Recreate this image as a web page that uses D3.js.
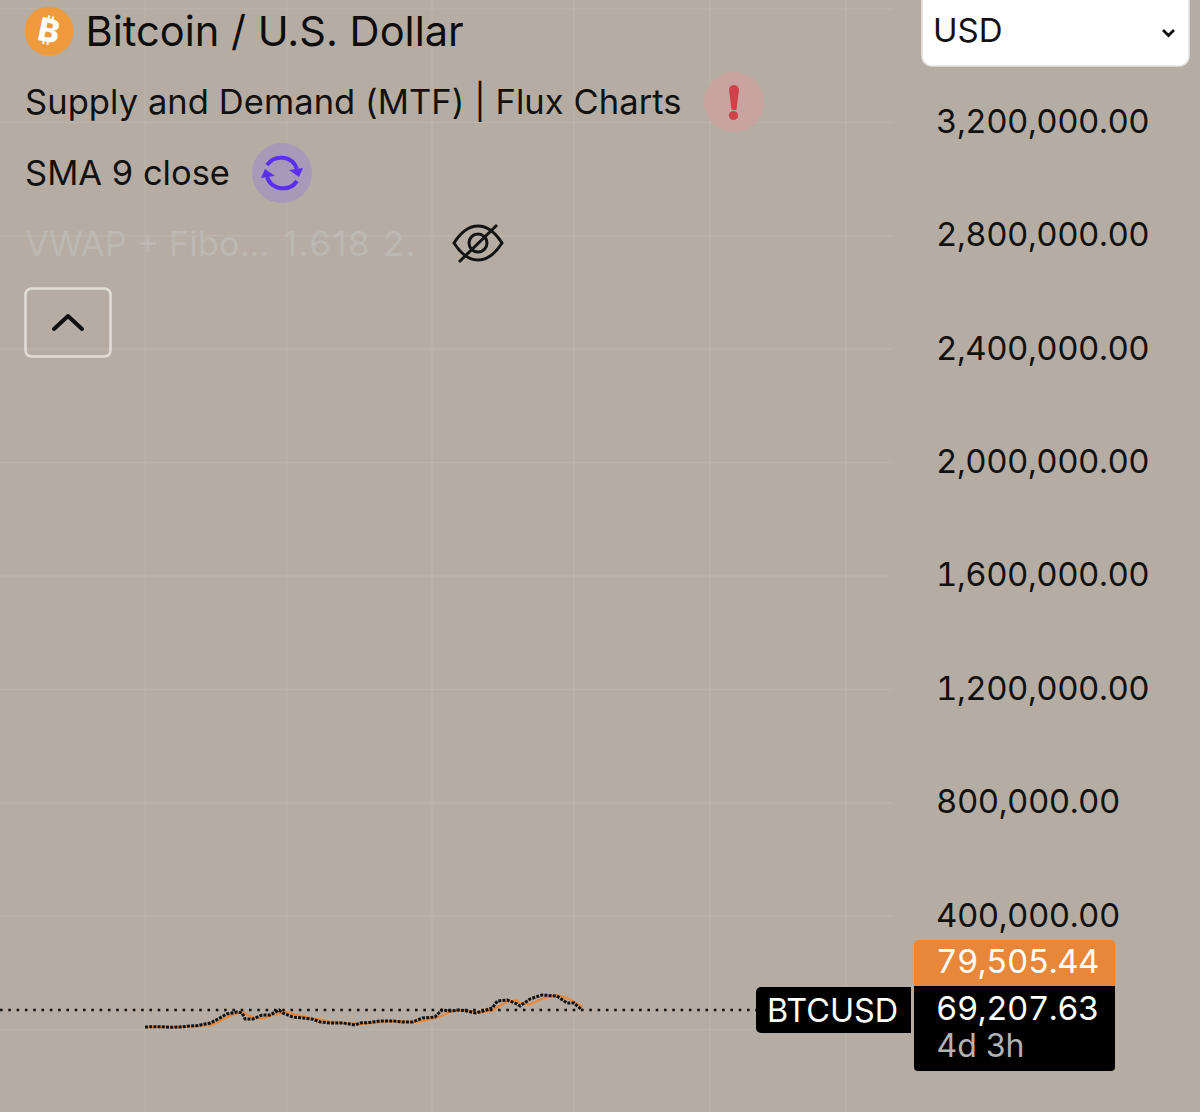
<!DOCTYPE html>
<html><head><meta charset="utf-8">
<script src="https://cdn.jsdelivr.net/npm/d3@7/dist/d3.min.js"></script>
<style>html,body{margin:0;padding:0;background:#b5ada3;overflow:hidden}svg{display:block}text{font-family:Inter,"Noto Sans",sans-serif}.num{font-variant-numeric:tabular-nums;letter-spacing:-0.5px}</style>
</head><body><svg id="c" width="1200" height="1112"></svg>
<script>
const years=[2018,2018.11,2018.23,2018.35,2018.49,2018.63,2018.73,2018.92,2019.03,2019.15,2019.3,2019.37,2019.41,2019.52,2019.65,2019.76,2019.89,2019.94,2020.08,2020.22,2020.34,2020.46,2020.59,2020.77,2020.94,2021.01,2021.14,2021.28,2021.46,2021.59,2021.73,2021.87,2022.04,2022.14,2022.25,2022.39,2022.49,2022.61,2022.72,2022.85,2022.92,2023.06,2023.2,2023.24,2023.38,2023.55,2023.76,2023.9,2024,2024.04,2024.12];
const closes=[9200,10200,9900,8100,9200,12700,13800,23300,37400,55000,62000,58500,37400,37400,51500,51500,69000,58500,44400,40900,37400,26800,23300,23300,16200,23300,25000,30300,30300,26800,26800,40900,44400,69100,65600,69100,65600,58500,65600,76200,100900,104400,90300,83200,107900,122000,118500,93800,93800,85000,69207];
const smaValues=[9000,9600,10000,9700,8900,10400,12600,15800,27000,44000,57000,62000,57000,43000,39000,49000,55000,66000,56000,47000,41000,35000,28000,24000,22000,19000,23000,26000,30500,29500,27500,30000,41000,48000,64000,67000,67000,63000,61000,67000,80000,99000,103000,94000,89000,109000,122000,111000,99000,92000,82000];
const gridYears=[2018,2020,2022,2024,2026,2028];
const gridPrices=[0,400000,800000,1200000,1600000,2000000,2400000,2800000,3200000,3600000];
const axisPrices=[400000,800000,1200000,1600000,2000000,2400000,2800000,3200000];
const lastPrice=69207.63, marketPrice=79505.44;
const fmt=d3.format(",.2f");

const svg=d3.select("#c");
const x=d3.scaleLinear().domain(gridYears).range([145,287,432,574,710,846]);
const y=d3.scaleLinear().domain([0,3600000]).range([1029.6,1029.6-113.4*9]);
const G="#bab3a9";
svg.append("rect").attr("width",1200).attr("height",1112).attr("fill","#b5ada3");

const grid=svg.append("g");
grid.selectAll("line.h").data(gridPrices).join("line").attr("class","h").attr("x1",0).attr("x2",892).attr("y1",d=>y(d)).attr("y2",d=>y(d)).attr("stroke",G).attr("stroke-width",1.5);
grid.selectAll("line.v").data(gridYears).join("line").attr("class","v").attr("y1",0).attr("y2",1112).attr("x1",d=>x(d)).attr("x2",d=>x(d)).attr("stroke",G).attr("stroke-width",1.5);

// axis
const ax=svg.append("g").attr("transform","translate(915,0)").call(d3.axisRight(y).tickValues(axisPrices).tickSize(0).tickPadding(21).tickFormat(fmt));
ax.select(".domain").remove();
ax.selectAll("text").attr("class","num").attr("font-size",33).attr("fill","#111").attr("dy","0.3em").style("font-family","Inter");

// series
const line=d3.line().x((d,i)=>x(years[i])).y(d=>y(d));
svg.append("path").attr("d",line(smaValues)).attr("fill","none").attr("stroke","#e8873a").attr("stroke-width",2.2);
svg.append("path").attr("d",line(closes)).attr("fill","none").attr("stroke","#111").attr("stroke-width",3).attr("stroke-dasharray","3 1.2");
svg.append("line").attr("x1",0).attr("x2",756).attr("y1",y(lastPrice)).attr("y2",y(lastPrice)).attr("stroke","#111").attr("stroke-width",2.6).attr("stroke-dasharray","2.6 5.7");

// price labels
svg.append("rect").attr("x",914).attr("y",940).attr("width",201).attr("height",50).attr("rx",4).attr("fill","#e8873a");
svg.append("path").attr("d","M918 986H1115V1067a4 4 0 0 1-4 4H918a4 4 0 0 1-4-4V986z").attr("fill","#000");
svg.append("path").attr("d","M761 987H911V1033H761a5 5 0 0 1-5-5V992a5 5 0 0 1 5-5z").attr("fill","#000");
const T=(s,xp,yp,size,fill,extra)=>{const t=svg.append("text").attr("x",xp).attr("y",yp).attr("font-size",size).attr("fill",fill).text(s);if(extra)extra(t);return t;};
T(fmt(marketPrice),936,973,33,"#fff",t=>t.attr("class","num"));
T(fmt(lastPrice),936,1020,33,"#fff",t=>t.attr("class","num"));
T("4d 3h",936.5,1057,32,"#b2b2b2");
T("BTCUSD",767,1022,32.4,"#fff");

// legend
svg.append("circle").attr("cx",49).attr("cy",31).attr("r",24.5).attr("fill","#ee9a3d");
T("₿",49,42,32,"#fff",t=>t.attr("text-anchor","middle").attr("font-weight",800).attr("transform","rotate(12 49 31)"));
T("Bitcoin / U.S. Dollar",85.5,46,41.6,"#0d0d0d");
T("Supply and Demand (MTF) | Flux Charts",25,114,34.5,"#111",t=>t.attr("letter-spacing","0.07"));
T("SMA 9 close",25,185,34.5,"#111");
T("VWAP + Fibo...",25,256,34.5,"#bcb8b2");
T("1.618 2.",283,256,34.5,"#bcb8b2",t=>t.attr("letter-spacing","1.7"));

// status icons
svg.append("circle").attr("cx",734).attr("cy",102).attr("r",30).attr("fill","#c9a3a0");
svg.append("path").attr("d","M729 90a4.8 4.8 0 0 1 10 0l-2.6 20h-4.8z").attr("fill","#d0424a");
svg.append("circle").attr("cx",733.5).attr("cy",115.5).attr("r",4.6).attr("fill","#d0424a");
svg.append("circle").attr("cx",282).attr("cy",173).attr("r",30).attr("fill","#a79ab8");
svg.append("path").attr("d","M267 165a17 17 0 0 1 30 4M297 181a17 17 0 0 1-30-4").attr("fill","none").attr("stroke","#5b2ff0").attr("stroke-width",4);
svg.append("path").attr("d","M289 170l14-2-4 9zM275 176l-14 2 4-9z").attr("fill","#5b2ff0");
const eye=svg.append("g").attr("fill","none").attr("stroke","#141414").attr("stroke-width",3);
eye.append("path").attr("d","M454 243c7-11 15-17 24-17s17 6 24 17c-7 11-15 17-24 17s-17-6-24-17z");
eye.append("circle").attr("cx",478).attr("cy",243).attr("r",9);
eye.append("line").attr("x1",459).attr("y1",262).attr("x2",497).attr("y2",225);

// collapse button
svg.append("rect").attr("x",25.5).attr("y",288.5).attr("width",85).attr("height",68).attr("rx",6).attr("fill","none").attr("stroke","#e2ded8").attr("stroke-width",2.5);
svg.append("path").attr("d","M54 329L68 316L82 329").attr("fill","none").attr("stroke","#111").attr("stroke-width",4).attr("stroke-linecap","round").attr("stroke-linejoin","round");

// currency select
svg.append("rect").attr("x",922).attr("y",-12).attr("width",267).attr("height",78).attr("rx",10).attr("fill","#fff").attr("stroke","#e6e4e1").attr("stroke-width",1.5);
T("USD",933,42,33,"#111");
svg.append("path").attr("d","M1163 30L1168.5 35.5L1174 30").attr("fill","none").attr("stroke","#111").attr("stroke-width",2.8);
</script></body></html>
